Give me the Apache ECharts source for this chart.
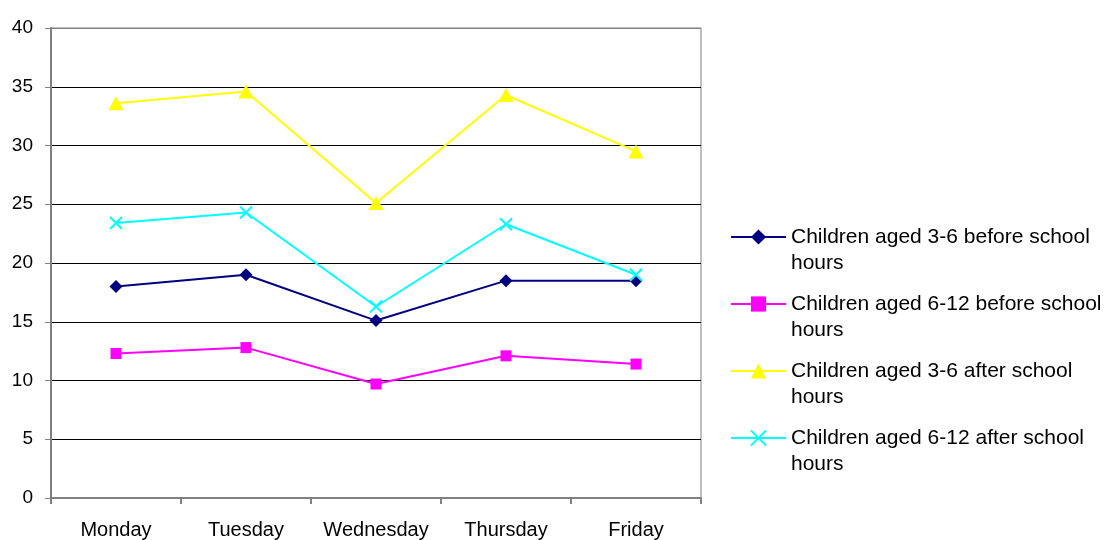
<!DOCTYPE html>
<html>
<head>
<meta charset="utf-8">
<script src="https://cdn.jsdelivr.net/npm/echarts@6/dist/echarts.min.js"></script>
<style>
  html, body { margin: 0; padding: 0; background: #fff; }
  #chart { width: 1117px; height: 540px; }
</style>
</head>
<body>
<div id="chart"></div>
<script>
// Weekdays along the category axis
const days = ['Monday', 'Tuesday', 'Wednesday', 'Thursday', 'Friday'];

// Series values per weekday
const aged3to6Before = [18.0, 19.0, 15.1, 18.5, 18.5];
const aged6to12Before = [12.3, 12.8, 9.7, 12.1, 11.4];
const aged3to6After = [33.6, 34.6, 25.1, 34.3, 29.5];
const aged6to12After = [23.4, 24.3, 16.3, 23.3, 19.0];

// Value axis ticks
const yMin = 0, yMax = 40, yStep = 5;

const names = [
  'Children aged 3-6 before school hours',
  'Children aged 6-12 before school hours',
  'Children aged 3-6 after school hours',
  'Children aged 6-12 after school hours'
];

const FONT = 'Liberation Sans, Arial, sans-serif';
const crossPath = 'path://M0,0L10,10M10,0L0,10';

const chart = echarts.init(document.getElementById('chart'), null, { renderer: 'canvas' });

// grid lines are black except the top one, which is part of the grey frame
const splitColors = [];
for (let v = yMin; v <= yMax; v += yStep) splitColors.push(v === yMax ? '#808080' : '#000000');

chart.setOption({
  animation: false,
  backgroundColor: '#ffffff',
  grid: {
    left: 51, right: 416, top: 28, bottom: 41,
    show: true, borderColor: '#808080', borderWidth: 1, backgroundColor: 'transparent'
  },
  xAxis: {
    type: 'category',
    data: days,
    boundaryGap: true,
    axisLine: { lineStyle: { color: '#808080', width: 2 } },
    axisTick: { show: true, interval: 0, length: 6, lineStyle: { color: '#808080', width: 2 } },
    axisLabel: { interval: 0, hideOverlap: false, color: '#000', fontFamily: FONT, fontSize: 20, margin: 22 },
    splitLine: { show: false }
  },
  yAxis: {
    type: 'value',
    min: yMin, max: yMax, interval: yStep,
    axisLine: { show: true, lineStyle: { color: '#808080', width: 2 } },
    axisTick: { show: true, length: 6, lineStyle: { color: '#808080', width: 1 } },
    axisLabel: { color: '#000', fontFamily: FONT, fontSize: 19, margin: 18 },
    splitLine: { show: true, lineStyle: { color: splitColors, width: 1 } }
  },
  legend: {
    orient: 'vertical',
    left: 730,
    top: 198,
    padding: 0,
    itemWidth: 55,
    itemHeight: 19,
    itemGap: -11,
    // a leading empty line keeps the first text line level with the icon
    formatter: function (name) { return '\n' + name.replace(' hours', '\nhours'); },
    textStyle: {
      color: '#000', fontFamily: FONT, fontSize: 21, lineHeight: 26
    },
    data: names
  },
  series: [
    {
      name: names[0], type: 'line', data: aged3to6Before,
      symbol: 'diamond', symbolSize: 13,
      lineStyle: { color: '#000080', width: 2 },
      itemStyle: { color: '#000080', borderColor: '#000080', borderWidth: 0 }
    },
    {
      name: names[1], type: 'line', data: aged6to12Before,
      symbol: 'rect', symbolSize: 11,
      lineStyle: { color: '#FF00FF', width: 2 },
      itemStyle: { color: '#FF00FF', borderColor: '#FF00FF', borderWidth: 0 }
    },
    {
      name: names[2], type: 'line', data: aged3to6After,
      symbol: 'triangle', symbolSize: [15, 14],
      lineStyle: { color: '#FFFF00', width: 2 },
      itemStyle: { color: '#FFFF00', borderColor: '#FFFF00', borderWidth: 0 }
    },
    {
      name: names[3], type: 'line', data: aged6to12After,
      symbol: crossPath, symbolSize: 12,
      lineStyle: { color: '#00FFFF', width: 2 },
      itemStyle: { color: '#00FFFF', borderColor: '#00FFFF', borderWidth: 2 }
    }
  ]
});
</script>
</body>
</html>
